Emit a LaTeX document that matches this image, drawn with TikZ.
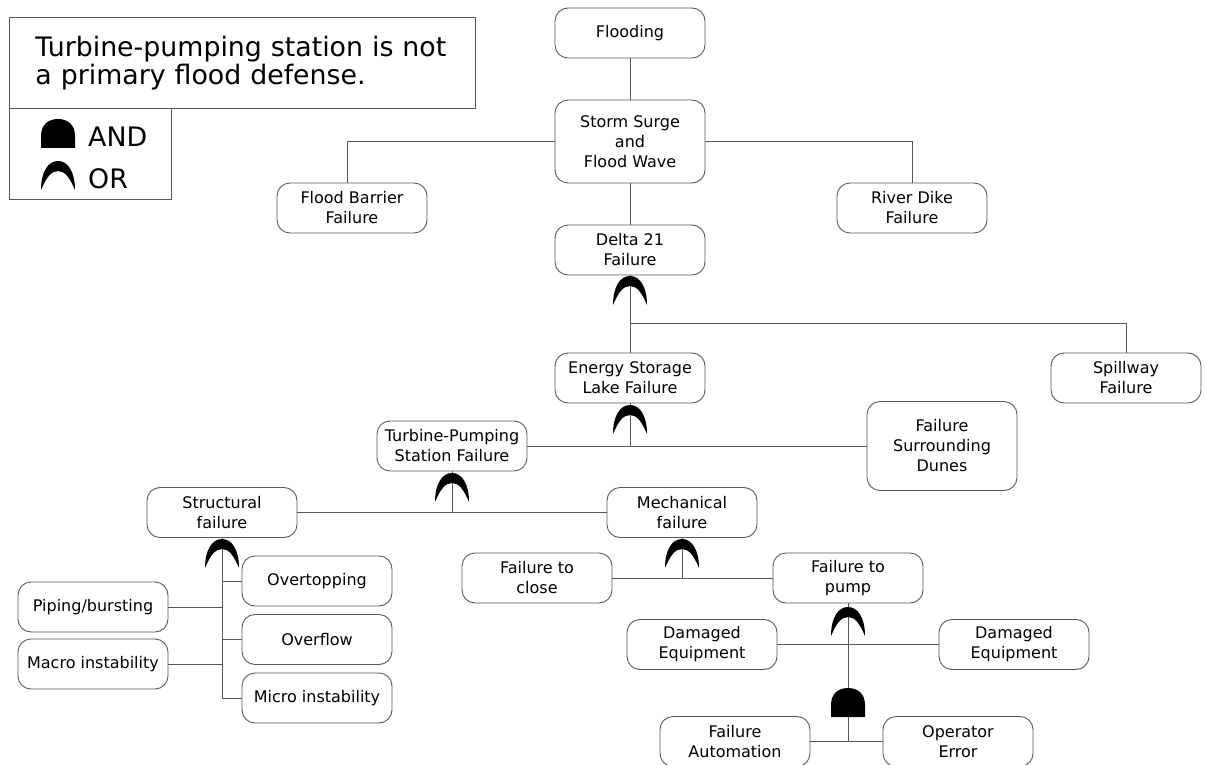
\documentclass[tikz,border=0pt]{standalone}
\usepackage{fontspec}
\setmainfont{DejaVu Sans}
\begin{document}
\begin{tikzpicture}[x=1pt,y=-1pt,
  box/.style={draw=black!65, line width=0.9pt, rounded corners=13pt, minimum width=150pt, minimum height=50pt, align=center, inner sep=2pt, font=\fontsize{16}{20}\selectfont},
  conn/.style={draw=black!65, line width=0.9pt},
  frame/.style={draw=black!65, line width=0.9pt},
  orgate/.pic={\fill (-17,0) .. controls (-17,-18) and (-10,-29) .. (0,-29) .. controls (10,-29) and (17,-18) .. (17,0) .. controls (12,-12) and (7,-19) .. (0,-19) .. controls (-7,-19) and (-12,-12) .. (-17,0) -- cycle;},
  andgate/.pic={\fill (-17,0) -- (-17,-12) .. controls (-17,-23) and (-10,-29) .. (0,-29) .. controls (10,-29) and (17,-23) .. (17,-12) -- (17,0) -- cycle;}]
\useasboundingbox (0,0) rectangle (1205,765);

% legend
\node[frame, anchor=north west, minimum width=466pt, minimum height=91pt, text width=414pt, inner xsep=26pt, align=left, font=\fontsize{26.8}{27.5}\selectfont] (title) at (9,17) {Turbine-pumping station is not\\a primary flood defense.};
\node[frame, anchor=north west, minimum width=162pt, minimum height=91pt] (legend) at (9,108) {};
\pic at (58,148) {andgate};
\pic at (58,190) {orgate};
\node[anchor=base west, inner sep=0pt, font=\fontsize{26.8}{27.5}\selectfont] (andtxt) at (88,147) {AND};
\node[anchor=base west, inner sep=0pt, font=\fontsize{26.8}{27.5}\selectfont] (ortxt) at (88,188) {OR};

% boxes
\node[box] (fl) at (630,33) {Flooding};
\node[box, minimum height=83pt] (ss) at (630,141.5) {Storm Surge\\and\\Flood Wave};
\node[box] (fb) at (352,208) {Flood Barrier\\Failure};
\node[box] (rd) at (912,208) {River Dike\\Failure};
\node[box] (d21) at (630,250) {Delta 21\\Failure};
\node[box] (es) at (630,378) {Energy Storage\\Lake Failure};
\node[box] (sp) at (1126,378) {Spillway\\Failure};
\node[box, minimum height=89pt] (du) at (942,446) {Failure\\Surrounding\\Dunes};
\node[box] (tp) at (452,446) {Turbine-Pumping\\Station Failure};
\node[box] (sf) at (222,512.5) {Structural\\failure};
\node[box] (mf) at (682,512.5) {Mechanical\\failure};
\node[box] (fc) at (537,578) {Failure to\\close};
\node[box] (fp) at (848,578) {Failure to\\pump};
\node[box] (de1) at (702,644.5) {Damaged\\Equipment};
\node[box] (de2) at (1014,644.5) {Damaged\\Equipment};
\node[box] (fa) at (735,741.5) {Failure\\Automation};
\node[box] (oe) at (958,741.5) {Operator\\Error};
\node[box] (ot) at (317,581) {Overtopping};
\node[box] (ov) at (317,639.5) {Overflow};
\node[box] (mi) at (317,698) {Micro instability};
\node[box] (pb) at (93,607) {Piping/bursting};
\node[box] (ma) at (93,664) {Macro instability};

% connectors
\draw[conn] (fl) -- (ss);
\draw[conn] (ss.west) -| ([xshift=-5pt]fb.north);
\draw[conn] (ss.east) -| (rd.north);
\draw[conn] (ss) -- (d21);
\draw[conn] (d21.south) -- (es.north);
\coordinate (j1) at (630,323);
\draw[conn] (j1) -| (sp.north);
\draw[conn] (es.south) -- (es.south |- tp.east);
\draw[conn] (tp.east) -- (du.west);
\draw[conn] (tp.south) -- (tp.south |- sf.east);
\draw[conn] (sf.east) -- (mf.west);
\draw[conn] (sf.south) -- (sf.south |- mi.west) -- (mi.west);
\draw[conn] (ot.west) -- (ot.west -| sf.south);
\draw[conn] (ov.west) -- (ov.west -| sf.south);
\draw[conn] (pb.east) -- (pb.east -| sf.south);
\draw[conn] (ma.east) -- (ma.east -| sf.south);
\draw[conn] (mf.south) -- (mf.south |- fc.east);
\draw[conn] (fc.east) -- (fp.west);
\draw[conn] (fp.south) -- (fp.south |- fa.east);
\draw[conn] (de1.east) -- (de2.west);
\draw[conn] (fa.east) -- (oe.west);

% gates
\pic at (630,305) {orgate};
\pic at (630,434) {orgate};
\pic at (452,502) {orgate};
\pic at (222,568) {orgate};
\pic at (682,568) {orgate};
\pic at (848,636) {orgate};
\pic at (848,717) {andgate};
\end{tikzpicture}
\end{document}
